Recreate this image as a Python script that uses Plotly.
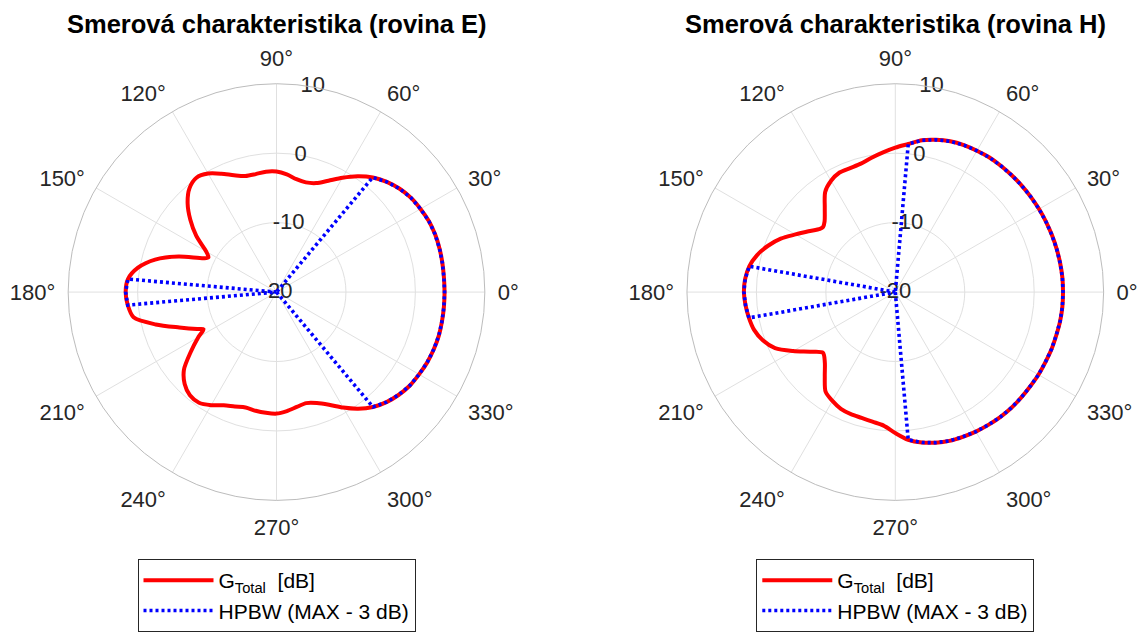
import plotly.graph_objects as go

# ---------------- data ----------------
THETA_E = [0, 5, 10, 15, 20, 25, 30, 35, 40, 45, 50, 55, 60, 65, 70, 75, 80, 85,
           90, 95, 100, 105, 110, 115, 120, 125, 130, 135, 140, 145, 150, 153, 155,
           160, 165, 170, 175, 180, 185, 190, 195, 200, 205, 207, 210, 215, 220,
           225, 230, 235, 240, 245, 250, 255, 260, 265, 270, 275, 280, 285, 290,
           295, 300, 305, 310, 315, 320, 325, 330, 335, 340, 345, 350, 355]
G_E = [4.2, 4.2, 4.25, 4.3, 4.3, 4.2, 3.95, 3.65, 3.15, 2.45, 1.55, 0.35, -1.0, -2.3,
       -3.3, -3.65, -3.5, -3.0, -2.65, -2.6, -2.75, -2.7, -2.1, -1.2, -0.3, 0.1, -0.5,
       -1.9, -3.8, -5.9, -8.3, -9.0, -8.5, -5.0, -1.9, 0.25, 1.47, 1.72, 1.5, 0.9,
       -2.0, -5.1, -7.4, -8.2, -7.0, -4.9, -2.6, -1.3, -0.6, -0.55, -1.2, -2.0, -2.45,
       -2.8, -2.65, -2.55, -2.5, -2.8, -3.2, -3.45, -3.0, -2.1, -0.8, 0.5, 1.6, 2.4,
       3.0, 3.45, 3.7, 3.95, 4.1, 4.2, 4.2, 4.2]

THETA_H = [0, 5, 10, 15, 20, 25, 30, 35, 40, 45, 50, 55, 60, 65, 70, 75, 80, 85,
           90, 95, 100, 105, 110, 115, 120, 125, 130, 135, 138, 140, 145, 150, 155,
           160, 165, 170, 175, 180, 185, 190, 195, 200, 205, 210, 215, 220, 225,
           230, 235, 240, 245, 250, 255, 260, 265, 270, 275, 280, 285, 290, 295,
           300, 305, 310, 315, 320, 325, 330, 335, 340, 345, 350, 355]
G_H = [4.15, 4.15, 4.1, 4.05, 4.0, 3.95, 3.9, 3.85, 3.8, 3.75, 3.7, 3.65, 3.5, 3.35,
       3.1, 2.7, 2.2, 1.4, 0.8, 0.2, -0.35, -0.85, -1.0, -1.0, -1.5, -2.4, -4.2,
       -5.6, -6.0, -5.85, -4.75, -3.4, -1.8, -0.5, 0.6, 1.35, 1.7, 1.8, 1.65, 1.4,
       1.05, 0.3, -0.9, -3.0, -5.0, -6.4, -5.65, -4.2, -2.5, -1.9, -1.45, -1.3,
       -1.25, -1.05, -0.7, 0.3, 1.35, 2.0, 2.45, 2.8, 3.0, 3.2, 3.35, 3.5, 3.6,
       3.65, 3.7, 3.8, 3.85, 3.95, 4.0, 4.1, 4.15]

R_RANGE = [-20, 10]
R_TICKS = [-20, -10, 0, 10]
R_TICK_LABELS = ["-20", "-10", "0", "10"]
R_LABEL_ANGLE = 80
HPBW_DROP = 3.0

TITLES = ["Smerová charakteristika (rovina E)", "Smerová charakteristika (rovina H)"]
NAME_G = "G<sub>Total</sub>\u00a0 [dB]"
NAME_HPBW = "HPBW (MAX - 3 dB)"

FONT = "Liberation Sans, Arial, Helvetica, sans-serif"
W, H = 1138, 632
CENTERS_X = [276.5, 895.3]
CENTER_Y = 293
RADIUS = 209


def hpbw_runs(theta, g):
    thr = max(g) - HPBW_DROP
    mask = [v >= thr for v in g]
    n = len(g)
    runs = []
    for i in range(n):
        if mask[i] and not mask[i - 1]:
            idx = []
            j = i
            while mask[j % n] and len(idx) < n:
                idx.append(j % n)
                j += 1
            runs.append(idx)
    out_t, out_r = [], []
    for idx in runs:
        th = []
        off = 0
        prev = None
        for k in idx:
            t = theta[k] + off
            if prev is not None and t < prev:
                off += 360
                t += 360
            th.append(t)
            prev = t
        rr = [g[k] for k in idx]
        out_t += [th[0]] + th + [th[-1], None]
        out_r += [R_RANGE[0]] + rr + [R_RANGE[0], None]
    return out_t, out_r


fig = go.Figure()

datasets = [(THETA_E, G_E), (THETA_H, G_H)]
for p, (th, g) in enumerate(datasets):
    sp = "polar" if p == 0 else "polar2"
    lg = "legend" if p == 0 else "legend2"
    # radial tick labels
    fig.add_trace(go.Scatterpolar(
        theta=[R_LABEL_ANGLE] * len(R_TICKS), r=R_TICKS, text=R_TICK_LABELS,
        mode="text", textposition="middle center",
        textfont=dict(size=22, color="#262626", family=FONT),
        showlegend=False, hoverinfo="skip", subplot=sp, cliponaxis=False))
    fig.add_trace(go.Scatterpolar(
        theta=th + [th[0]], r=g + [g[0]], mode="lines", name=NAME_G,
        line=dict(color="#ff0000", width=4, shape="spline", smoothing=0.8),
        subplot=sp, legend=lg))
    ht, hr = hpbw_runs(th, g)
    fig.add_trace(go.Scatterpolar(
        theta=ht, r=hr, mode="lines", name=NAME_HPBW,
        line=dict(color="#0000ff", width=3.6, dash="3px,3px"),
        subplot=sp, legend=lg, connectgaps=False))


def polar_layout(cx):
    return dict(
        domain=dict(x=[(cx - RADIUS) / W, (cx + RADIUS) / W],
                    y=[(H - CENTER_Y - RADIUS) / H, (H - CENTER_Y + RADIUS) / H]),
        bgcolor="white",
        radialaxis=dict(range=R_RANGE, tickvals=R_TICKS, showticklabels=False,
                        ticks="", showline=False, gridcolor="#e0e0e0", gridwidth=1,
                        angle=R_LABEL_ANGLE),
        angularaxis=dict(rotation=0, direction="counterclockwise", tick0=0, dtick=30,
                         ticksuffix="°", showline=True, linecolor="#bcbcbc", linewidth=1,
                         gridcolor="#e0e0e0", gridwidth=1, ticks="outside", ticklen=8,
                         tickcolor="rgba(0,0,0,0)",
                         tickfont=dict(size=22, color="#262626", family=FONT)),
    )


legend_common = dict(
    font=dict(size=21, color="#000000", family=FONT),
    bgcolor="white", bordercolor="#262626", borderwidth=1,
    xanchor="center", yanchor="top", y=(H - 561) / H,
    itemwidth=70, tracegroupgap=0,
)

fig.update_layout(
    width=W, height=H, margin=dict(l=0, r=0, t=0, b=0),
    paper_bgcolor="white", plot_bgcolor="white",
    polar=polar_layout(CENTERS_X[0]),
    polar2=polar_layout(CENTERS_X[1]),
    legend=dict(x=CENTERS_X[0] / W, **legend_common),
    legend2=dict(x=CENTERS_X[1] / W, **legend_common),
    hovermode=False,
    annotations=[
        dict(text="<b>" + TITLES[i] + "</b>", x=CENTERS_X[i] / W, y=(H - 24) / H,
             xref="paper", yref="paper", xanchor="center", yanchor="middle",
             showarrow=False, font=dict(size=25.5, color="#000000", family=FONT))
        for i in range(2)
    ],
)

fig.write_html("out.html")
